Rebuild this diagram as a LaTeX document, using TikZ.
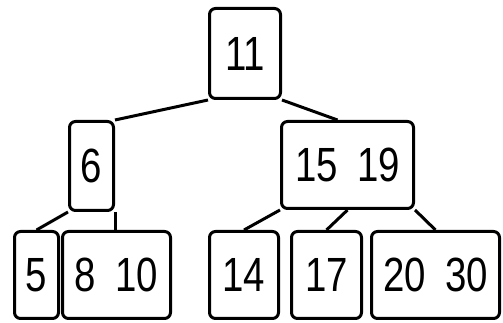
\documentclass[tikz,border=0pt]{standalone}
\usepackage{fontspec}
\newfontfamily\keyfont[FakeStretch=0.8,WordSpace=1.8]{Liberation Sans}
\usetikzlibrary{calc}

\begin{document}
\begin{tikzpicture}[x=0.75pt,y=0.75pt,yscale=-1,xscale=1,
  keybox/.style={draw, line width=2.25pt, rounded corners=4.5pt, inner sep=0pt, minimum height=65.25pt, font=\keyfont\fontsize{36}{40}\selectfont},
  link/.style={line width=2.25pt}]
\useasboundingbox (0,0) rectangle (503,323);

% Root
\node [keybox, minimum width=53.25pt, minimum height=67.5pt] (root) at (245,53.5) {11};
% Inner level
\node [keybox, minimum width=33pt, minimum height=66.75pt] (n6) at (91.5,166) {6};
\node [keybox, minimum width=99pt] (n1519) at (347.5,165) {15 19};
% Leaves
\node [keybox, minimum width=33pt] (n5) at (36.5,275) {5};
\node [keybox, minimum width=81pt] (n810) at (116.5,275) {8 10};
\node [keybox, minimum width=51.75pt] (n14) at (244,275) {14};
\node [keybox, minimum width=52.5pt] (n17) at (326.5,275) {17};
\node [keybox, minimum width=96pt] (n2030) at (435.5,275) {20 30};

% Links
\draw [link] (root.south west) -- (n6.north east);
\draw [link] (root.south east) -- ($(n1519.north)+(-10,0)$);
\draw [link] (n6.south west) -- (n5.north);
\draw [link] (n6.south east) -- (n6.south east |- n810.north);
\draw [link] (n1519.south west) -- (n14.north);
\draw [link] (n1519.south) -- (n17.north);
\draw [link] (n1519.south east) -- (n2030.north);

\end{tikzpicture}
\end{document}
